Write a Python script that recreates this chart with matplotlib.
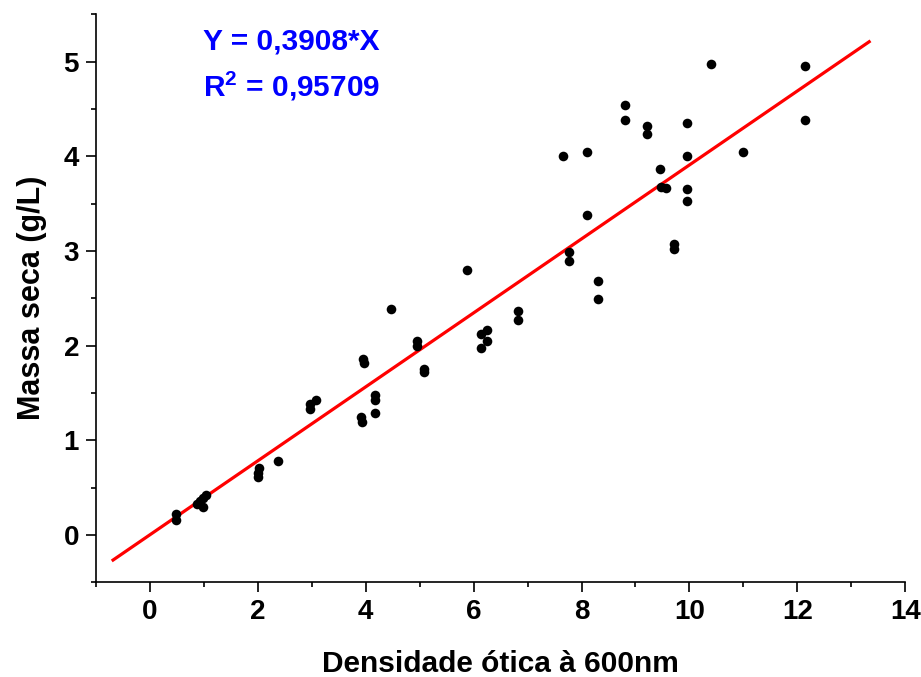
import matplotlib
matplotlib.use("Agg")
import matplotlib.pyplot as plt
from matplotlib.ticker import MultipleLocator

plt.rcParams['font.family'] = ['Liberation Sans', 'DejaVu Sans']
plt.rcParams['font.weight'] = 'bold'
plt.rcParams['mathtext.fontset'] = 'custom'
plt.rcParams['mathtext.bf'] = 'Liberation Sans:bold'
plt.rcParams['mathtext.rm'] = 'Liberation Sans:bold'

od_x = [0.48, 0.48, 0.87, 0.93, 0.99, 1.04, 0.98, 2.00, 2.00, 2.02, 2.37,
        2.96, 2.97, 3.08, 3.92, 3.93, 3.96, 3.97, 4.18, 4.18, 4.18, 4.47,
        4.96, 4.96, 5.08, 5.08, 5.87, 6.13, 6.25, 6.25, 6.13, 6.82, 6.82,
        7.65, 7.76, 7.76, 8.11, 8.11, 8.31, 8.31, 8.81, 8.81, 9.21, 9.21,
        9.46, 9.47, 9.56, 9.72, 9.72, 9.95, 9.95, 9.95, 9.95, 10.40, 11.00,
        12.15, 12.15]
mass_y = [0.22, 0.16, 0.33, 0.36, 0.39, 0.42, 0.29, 0.61, 0.65, 0.71, 0.78,
          1.38, 1.33, 1.43, 1.24, 1.19, 1.86, 1.82, 1.48, 1.42, 1.29, 2.39,
          2.05, 1.99, 1.75, 1.72, 2.80, 2.12, 2.16, 2.05, 1.97, 2.36, 2.27,
          4.00, 2.99, 2.89, 4.04, 3.38, 2.68, 2.49, 4.54, 4.38, 4.32, 4.23,
          3.87, 3.68, 3.66, 3.07, 3.02, 4.35, 4.00, 3.65, 3.53, 4.97, 4.04,
          4.95, 4.38]

slope = 0.3908
r2 = 0.95709
fit_x = [-0.68, 13.33]
fit_y = [slope * v for v in fit_x]

fig = plt.figure(figsize=(9.21, 6.77), dpi=100)
ax = fig.add_axes([0.104, 0.140, 0.879, 0.839])

ax.plot(fit_x, fit_y, color='#ff0000', lw=2.3, zorder=2)
ax.scatter(od_x, mass_y, s=48, color='black', zorder=3, linewidths=0)

ax.set_xlim(-1, 14)
ax.set_ylim(-0.5, 5.5)
ax.xaxis.set_major_locator(MultipleLocator(2))
ax.xaxis.set_minor_locator(MultipleLocator(1))
ax.yaxis.set_major_locator(MultipleLocator(1))
ax.yaxis.set_minor_locator(MultipleLocator(0.5))
for s in ['top', 'right']:
    ax.spines[s].set_visible(False)
for s in ['left', 'bottom']:
    ax.spines[s].set_linewidth(1.2)
ax.tick_params(which='major', direction='out', length=7, width=1.2, labelsize=20, pad=5)
ax.tick_params(which='minor', direction='out', length=3.5, width=1.2)
for lab in ax.get_xticklabels() + ax.get_yticklabels():
    lab.set_fontweight('bold')

ax.set_xlabel('Densidade ótica à 600nm', fontsize=21.5, fontweight='bold', labelpad=18)
ax.set_ylabel('Massa seca (g/L)', fontsize=22, fontweight='bold', labelpad=12)

ax.text(203, 677 - 42, 'Y = 0,3908*X', transform=None, color='#0000ff',
        fontsize=21.5, fontweight='bold', va='center', ha='left')
ax.text(203, 677 - 86, r'R$^{\mathbf{2}}$ = 0,95709', transform=None, color='#0000ff',
        fontsize=21.5, fontweight='bold', va='center', ha='left')

fig.savefig('out.png', dpi=100)
